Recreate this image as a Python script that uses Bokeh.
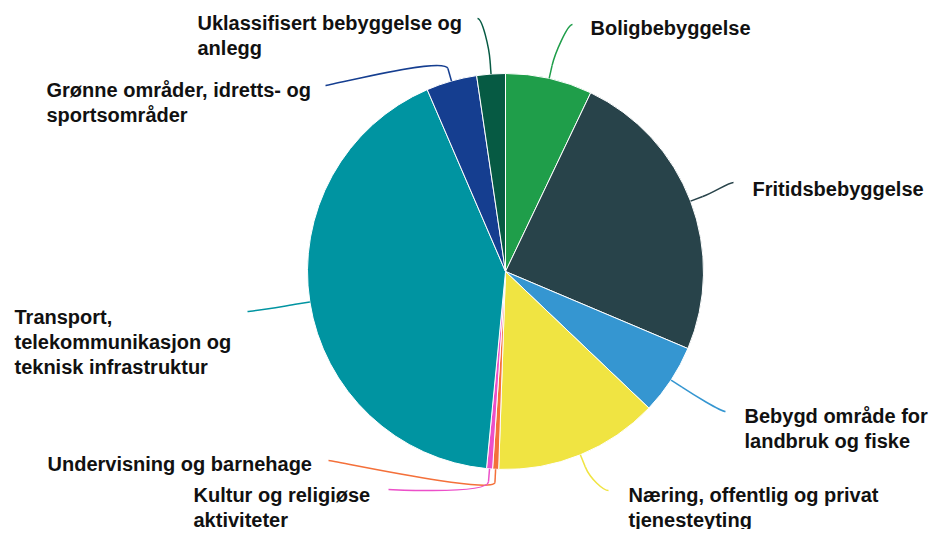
import math
from bokeh.plotting import figure
from bokeh.models import Range1d
from bokeh.core.properties import value
from bokeh.embed import file_html
from bokeh.resources import INLINE

# ---- data (clockwise from 12 o'clock) ----
categories = [
    "Boligbebyggelse",
    "Fritidsbebyggelse",
    "Bebygd område for landbruk og fiske",
    "Næring, offentlig og privat tjenesteyting",
    "Undervisning og barnehage",
    "Kultur og religiøse aktiviteter",
    "Transport, telekommunikasjon og teknisk infrastruktur",
    "Grønne områder, idretts- og sportsområder",
    "Uklassifisert bebyggelse og anlegg",
]
shares = [7.08, 24.28, 5.75, 13.44, 0.49, 0.49, 42.0, 4.14, 2.33]
colors = ["#1f9e4a", "#28434a", "#3596d1", "#f0e442", "#f4703a",
          "#ec4fc9", "#0094a1", "#153e90", "#065a43"]

# ---- layout (pixel coordinates from top-left, y downward) ----
PW, PH = 929, 529
CX, CY, R = 505, 271, 198
label_lines = [
    ["Boligbebyggelse"],
    ["Fritidsbebyggelse"],
    ["Bebygd område for", "landbruk og fiske"],
    ["Næring, offentlig og privat", "tjenesteyting"],
    ["Undervisning og barnehage"],
    ["Kultur og religiøse", "aktiviteter"],
    ["Transport,", "telekommunikasjon og", "teknisk infrastruktur"],
    ["Grønne områder, idretts- og", "sportsområder"],
    ["Uklassifisert bebyggelse og", "anlegg"],
]
label_left = [590, 752, 744, 628, 47, 193, 14, 46, 197]
label_top = [27, 188, 415, 494, 463, 494, 316, 89, 22]
conn_end = [(572, 24), (733, 182), (725, 411), (608, 490), (328, 460),
            (388, 489), (247, 311), (325, 85), (477, 18)]
side = [1, 1, 1, 1, -1, -1, -1, -1, -1]
LINE_H = 25


def fy(y):
    return PH - y


p = figure(width=PW, height=PH, output_backend="svg", toolbar_location=None,
           x_range=Range1d(0, PW), y_range=Range1d(0, PH), min_border=0)
p.axis.visible = False
p.grid.visible = False
p.outline_line_color = None
p.background_fill_color = "white"
p.border_fill_color = "white"

total = sum(shares)
cum = 0.0
starts, ends, mids = [], [], []
for s in shares:
    a0 = cum / total * 2 * math.pi
    cum += s
    a1 = cum / total * 2 * math.pi
    starts.append(math.pi / 2 - a0)
    ends.append(math.pi / 2 - a1)
    mids.append((a0 + a1) / 2)

p.wedge(x=[CX] * len(shares), y=[fy(CY)] * len(shares), radius=R,
        start_angle=starts, end_angle=ends, direction="clock",
        fill_color=colors, line_color="white", line_width=1)

# connectors (soft connectors from slice edge to label)
for i, th in enumerate(mids):
    tx, ty = CX + R * math.sin(th), CY - R * math.cos(th)
    bx, by = CX + (R + 13) * math.sin(th), CY - (R + 13) * math.cos(th)
    ex, ey = conn_end[i]
    c1x, c1y = ex - 5 * side[i], ey
    c2x, c2y = 2 * bx - tx, 2 * by - ty
    p.bezier(x0=[ex], y0=[fy(ey)], x1=[bx], y1=[fy(by)],
             cx0=[c1x], cy0=[fy(c1y)], cx1=[c2x], cy1=[fy(c2y)],
             line_color=colors[i], line_width=1.5)
    p.line([bx, tx], [fy(by), fy(ty)], line_color=colors[i], line_width=1.5)

# labels
xs, ys, ts = [], [], []
for i, lines in enumerate(label_lines):
    for k, t in enumerate(lines):
        xs.append(label_left[i])
        ys.append(fy(label_top[i] + k * LINE_H))
        ts.append(t)
p.text(x=xs, y=ys, text=ts, text_align="left", text_baseline="middle",
       text_font=value("Liberation Sans"), text_font_style="bold",
       text_font_size="20px", text_color="#111111")

open("out.html", "w").write(file_html(p, INLINE))
